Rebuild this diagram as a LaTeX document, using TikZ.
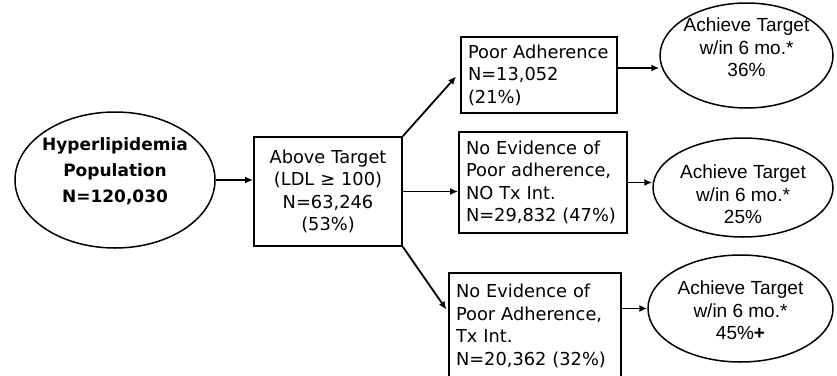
\documentclass[tikz,border=0pt]{standalone}
\usepackage{fontspec}
\usepackage{tikz}
\usetikzlibrary{shapes.geometric, arrows.meta, positioning}
\newfontfamily\boxfont{DejaVu Sans}
\newfontfamily\ovalfont{Liberation Sans}
\tikzset{
	stage/.style = {draw, rectangle, line width=1.8pt, inner xsep=7pt, inner ysep=0pt, font=\boxfont\fontsize{17.8}{22.5}\selectfont},
	outcome/.style = {draw, ellipse, line width=1.5pt, inner sep=0},
	ovaltext/.style = {align=center, font=\ovalfont\fontsize{19}{22.5}\selectfont},
	poptext/.style = {align=center, font=\boxfont\bfseries\fontsize{17}{26}\selectfont},
	flow/.style = {line width=1.8pt, -{Latex[length=8pt,width=7pt]}}
}
\begin{document}
\begin{tikzpicture}[x=1pt, y=-1pt]
	\useasboundingbox (0,0) rectangle (837,375);
	\clip (0,0) rectangle (837,375);
	
	\node [outcome, minimum width=200pt, minimum height=136pt] (pop) at (115,180) {};
	\node [poptext] (popname) at ([yshift=9pt]pop.center) {Hyperlipidemia\\Population\\N=120,030};
	
	\node [stage, text width=134pt, align=center, minimum height=109pt] (above) at (328,191.5) {Above Target\\(LDL ≥ 100)\\N=63,246\\(53\%)};
	
	\node [stage, text width=142pt, align=left, minimum height=76pt] (poor) at (539,75) {Poor Adherence\\N=13,052\\(21\%)};
	\node [stage, text width=154pt, align=left, minimum height=101pt] (noev) at (543,182.5) {No Evidence of\\Poor adherence,\\NO Tx Int.\\N=29,832 (47\%)};
	\node [stage, text width=158pt, align=left, minimum height=106pt] (tx) at (535,326) {No Evidence of\\Poor Adherence,\\Tx Int.\\N=20,362 (32\%)};
	
	\node [outcome, minimum width=173pt, minimum height=105pt] (ach1) at (746.5,55.5) {};
	\node [ovaltext] (ach1text) at ([yshift=8pt]ach1.center) {Achieve Target\\w/in 6 mo.*\\36\%};
	\node [outcome, minimum width=180pt, minimum height=99pt] (ach2) at (743,187.5) {};
	\node [ovaltext] (ach2text) at ([yshift=-7pt]ach2.center) {Achieve Target\\w/in 6 mo.*\\25\%};
	\node [outcome, minimum width=185pt, minimum height=107pt] (ach3) at (740.5,308.5) {};
	\node [ovaltext] (ach3text) at ([yshift=-2pt]ach3.center) {Achieve Target\\w/in 6 mo.*\\45\%\textbf{+}};
	
	\draw [flow] (pop.east) -- (pop.east -| above.west);
	\draw [flow, shorten >=6pt] (above.north east) -- ([yshift=3pt]poor.west);
	\draw [flow] (above.east) -- (above.east -| noev.west);
	\draw [flow, shorten >=3pt] (above.south east) -- ([yshift=14pt]tx.west);
	\draw [flow] ([yshift=7pt]poor.east) -- ([yshift=7pt]poor.east -| ach1.west);
	\draw [flow] (noev.east) -- (noev.east -| ach2.west);
	\draw [flow] (tx.east |- ach3.west) -- (ach3.west);
\end{tikzpicture}
\end{document}
